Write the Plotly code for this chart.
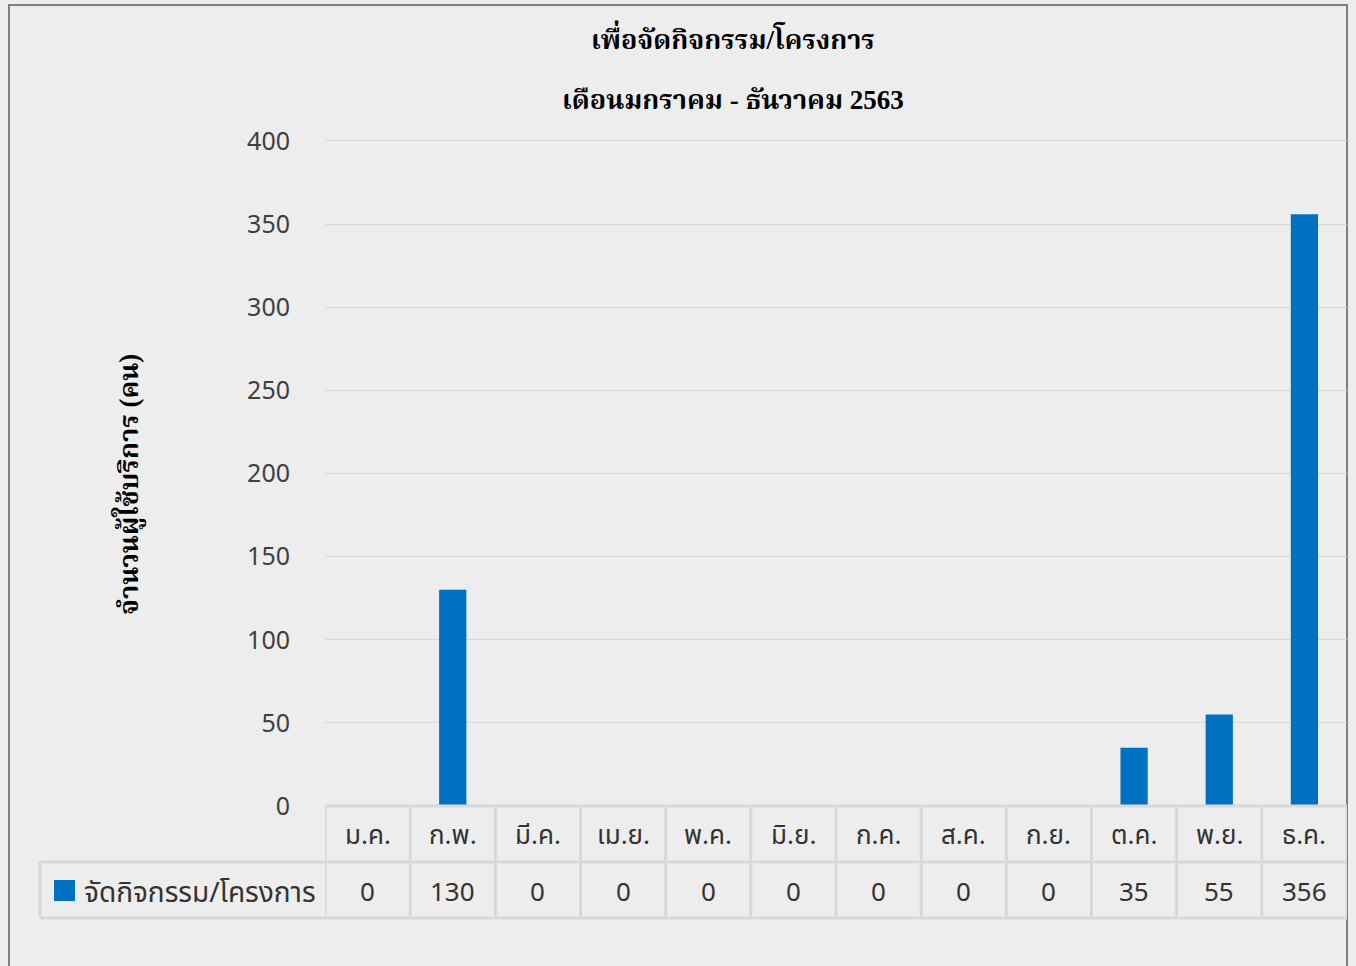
import plotly.graph_objects as go

# data
months = ['ม.ค.', 'ก.พ.', 'มี.ค.', 'เม.ย.', 'พ.ค.', 'มิ.ย.',
          'ก.ค.', 'ส.ค.', 'ก.ย.', 'ต.ค.', 'พ.ย.', 'ธ.ค.']
activity = [0, 130, 0, 0, 0, 0, 0, 0, 0, 35, 55, 356]
series_name = 'จัดกิจกรรม/โครงการ'
title_line1 = 'เพื่อจัดกิจกรรม/โครงการ'
title_line2 = 'เดือนมกราคม - ธันวาคม 2563'
y_title = 'จำนวนผู้ใช้บริการ (คน)'
y_ticks = [0, 50, 100, 150, 200, 250, 300, 350, 400]

W, H = 1356, 966
L, R, T, B = 325, 9, 136, 160
plot_h = H - T - B
plot_w = W - L - R


def py(px):
    # pixel from top -> paper y
    return (H - B - px) / plot_h


def pxx(px):
    return (px - L) / plot_w


bar_color = '#0070C0'
grid_color = '#D9D9D9'
table_line = '#D9D9D9'
sans = 'Noto Sans, Noto Sans Thai, sans-serif'
serif = 'Liberation Serif, Noto Serif Thai, serif'

fig = go.Figure(
    data=[go.Bar(x=list(range(len(months))), y=activity, width=0.32,
                 marker=dict(color=bar_color, line=dict(width=0)),
                 name=series_name, showlegend=False)],
    layout=go.Layout(
        width=W, height=H,
        margin={'l': L, 'r': R, 't': T, 'b': B},
        paper_bgcolor='#EDEDED',
        plot_bgcolor='#EDEDED',
        xaxis=dict(range=[-0.5, len(months) - 0.5],
                   showticklabels=False, showgrid=False,
                   zeroline=False, showline=False, fixedrange=True),
        yaxis=dict(range=[0, 403], tickvals=y_ticks,
                   showgrid=True, gridcolor=grid_color, gridwidth=1,
                   zeroline=False, showline=False,
                   ticklabelstandoff=34,
                   tickfont=dict(family=sans, size=25, color='#404040')),
        font=dict(family=sans),
    )
)

# table rows
row1_c = py(834)
row2_c = py(891)
row_mid = py(862)
row_bot = py(918)

ann = []
for i, m in enumerate(months):
    ann.append(dict(x=i, y=row1_c, xref='x', yref='paper', text=m,
                    showarrow=False, yanchor='middle',
                    font=dict(family=sans, size=26, color='#333333')))
    ann.append(dict(x=i, y=row2_c, xref='x', yref='paper', text=str(activity[i]),
                    showarrow=False, yanchor='middle',
                    font=dict(family=sans, size=26, color='#333333')))

ann.append(dict(x=pxx(82), y=row2_c, xref='paper', yref='paper',
                text=series_name, showarrow=False, xanchor='left', yanchor='middle',
                font=dict(family=sans, size=28, color='#333333')))

ann.append(dict(x=pxx(733), y=py(18), xref='paper', yref='paper',
                text='<b>%s</b>' % title_line1, showarrow=False,
                font=dict(family=serif, size=27, color='#000000')))
ann.append(dict(x=pxx(733), y=py(83), xref='paper', yref='paper',
                text='<b>%s</b>' % title_line2, showarrow=False,
                font=dict(family=serif, size=27, color='#000000')))
ann.append(dict(x=pxx(109), y=py(485), xref='paper', yref='paper',
                text='<b>%s</b>' % y_title, showarrow=False, textangle=-90,
                font=dict(family=serif, size=27, color='#000000')))

shapes = []
# legend swatch
shapes.append(dict(type='rect', xref='paper', yref='paper',
                   x0=pxx(54), x1=pxx(75), y0=py(901), y1=py(880),
                   fillcolor=bar_color, line=dict(width=0)))
# vertical cell borders
for i in range(len(months) + 1):
    shapes.append(dict(type='line', xref='x', yref='paper',
                       x0=i - 0.5, x1=i - 0.5, y0=row_bot, y1=0,
                       line=dict(color=table_line, width=3)))
# horizontal borders
shapes.append(dict(type='line', xref='paper', yref='paper', x0=0, x1=1,
                   y0=0, y1=0, line=dict(color=table_line, width=3)))
for yy in (row_mid, row_bot):
    shapes.append(dict(type='line', xref='paper', yref='paper', x0=pxx(40), x1=1,
                       y0=yy, y1=yy, line=dict(color=table_line, width=3)))
shapes.append(dict(type='line', xref='paper', yref='paper', x0=pxx(40), x1=pxx(40),
                   y0=row_bot, y1=row_mid, line=dict(color=table_line, width=3)))
# outer chart border
shapes.append(dict(type='rect', xref='paper', yref='paper',
                   x0=pxx(9), x1=pxx(1347), y0=py(1000), y1=py(5),
                   line=dict(color='#7F7F7F', width=2), layer='below'))

fig.update_layout(annotations=ann, shapes=shapes)

fig.write_html("out.html", config={'displayModeBar': False},
               post_script="document.body.style.margin='0px';document.body.style.overflow='hidden';")
